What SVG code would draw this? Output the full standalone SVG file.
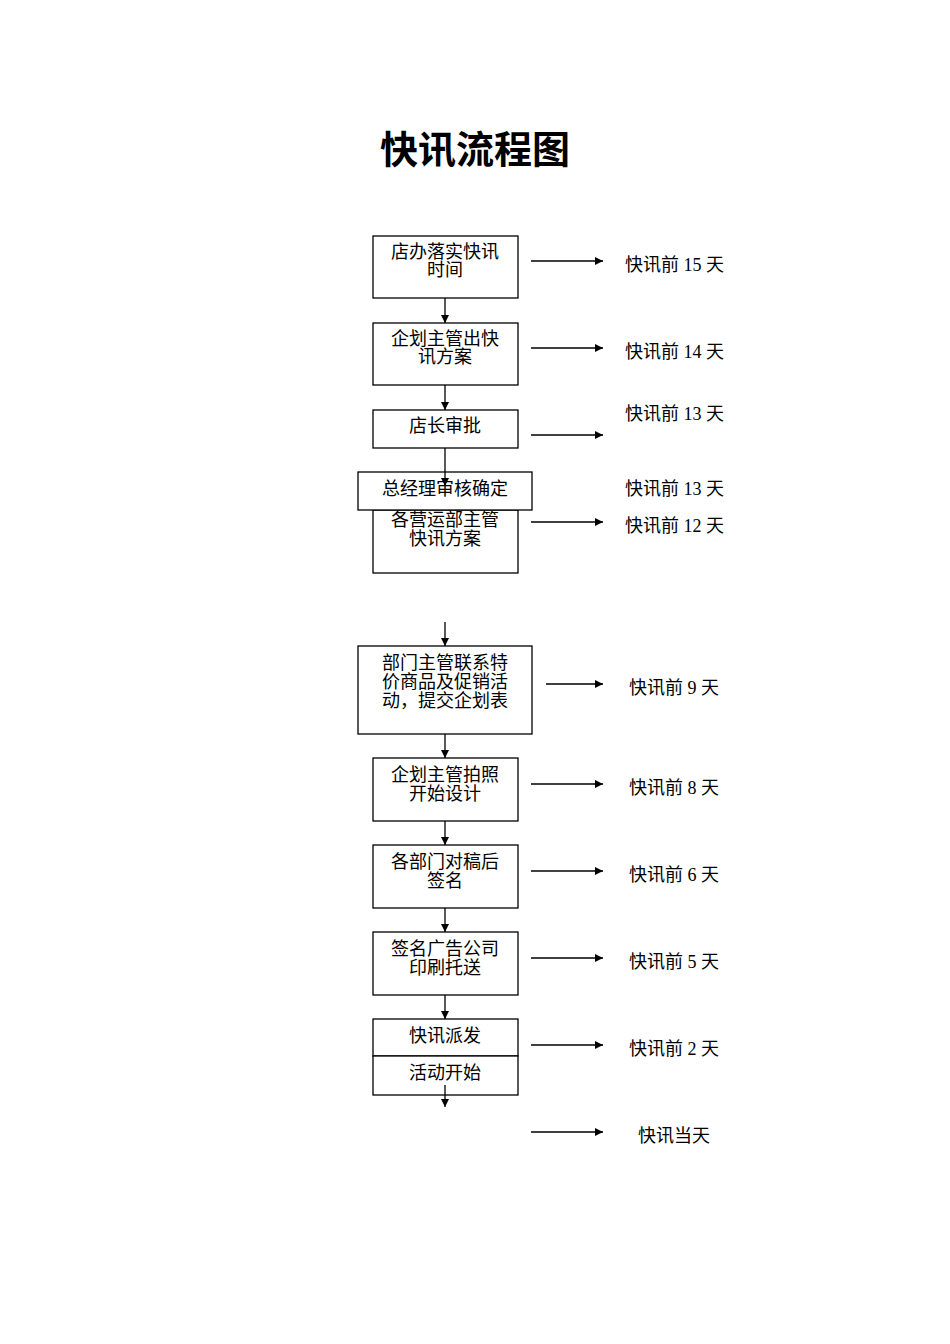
<svg xmlns="http://www.w3.org/2000/svg" width="950" height="1344" viewBox="0 0 950 1344">
<defs><marker id="a" viewBox="0 0 10 10" refX="10" refY="5" markerWidth="8" markerHeight="8" markerUnits="userSpaceOnUse" orient="auto"><path d="M0,0L10,5L0,10z" fill="#000"/></marker></defs>
<style>
rect{fill:#fff;stroke:#000;stroke-width:1.3}
text{font-family:"Liberation Serif","Noto Sans CJK SC",serif;font-size:18px;fill:#000}
.c{text-anchor:middle}
line{stroke:#000;stroke-width:1.3;marker-end:url(#a)}
</style>
<rect width="950" height="1344" style="stroke:none"/>
<text class="c" x="475" y="163" style="font-size:38px;font-weight:bold">快讯流程图</text>
<g id="n1"><rect x="373" y="236" width="145" height="62"/><text class="c" x="445" y="258">店办落实快讯</text><text class="c" x="445" y="276">时间</text></g>
<g id="n2"><rect x="373" y="323" width="145" height="62"/><text class="c" x="445" y="345">企划主管出快</text><text class="c" x="445" y="363">讯方案</text></g>
<g id="n3"><rect x="373" y="410" width="145" height="38"/><text class="c" x="445" y="432">店长审批</text></g>
<g id="n5"><rect x="373" y="510" width="145" height="63"/><text class="c" x="445" y="526">各营运部主管</text><text class="c" x="445" y="545">快讯方案</text></g>
<g id="n4"><rect x="358" y="472" width="174" height="38"/><text class="c" x="445" y="495">总经理审核确定</text></g>
<g id="n6"><rect x="358" y="646" width="174" height="88"/><text class="c" x="445" y="669">部门主管联系特</text><text class="c" x="445" y="688">价商品及促销活</text><text class="c" x="445" y="707">动，提交企划表</text></g>
<g id="n7"><rect x="373" y="758" width="145" height="63"/><text class="c" x="445" y="781">企划主管拍照</text><text class="c" x="445" y="800">开始设计</text></g>
<g id="n8"><rect x="373" y="845" width="145" height="63"/><text class="c" x="445" y="868">各部门对稿后</text><text class="c" x="445" y="887">签名</text></g>
<g id="n9"><rect x="373" y="932" width="145" height="63"/><text class="c" x="445" y="955">签名广告公司</text><text class="c" x="445" y="974">印刷托送</text></g>
<g id="n10"><rect x="373" y="1019" width="145" height="37"/><text class="c" x="445" y="1042">快讯派发</text></g>
<g id="n11"><rect x="373" y="1056" width="145" height="39"/><text class="c" x="445" y="1079">活动开始</text></g>
<g id="connectors">
<line x1="445" y1="298" x2="445" y2="323"/><line x1="445" y1="385" x2="445" y2="410"/>
<line x1="445" y1="448" x2="445" y2="486"/><line x1="445" y1="622" x2="445" y2="646"/>
<line x1="445" y1="734" x2="445" y2="758"/><line x1="445" y1="821" x2="445" y2="845"/>
<line x1="445" y1="908" x2="445" y2="932"/><line x1="445" y1="995" x2="445" y2="1019"/>
<line x1="445" y1="1085" x2="445" y2="1107"/>
<line x1="531" y1="261" x2="603" y2="261"/><line x1="531" y1="348" x2="603" y2="348"/>
<line x1="531" y1="435" x2="603" y2="435"/><line x1="531" y1="522" x2="603" y2="522"/>
<line x1="546" y1="684" x2="603" y2="684"/><line x1="531" y1="784" x2="603" y2="784"/>
<line x1="531" y1="871" x2="603" y2="871"/><line x1="531" y1="958" x2="603" y2="958"/>
<line x1="531" y1="1045" x2="603" y2="1045"/><line x1="531" y1="1132" x2="603" y2="1132"/>
</g>
<g id="labels">
<text x="625" y="271">快讯前 15 天</text><text x="625" y="358">快讯前 14 天</text>
<text x="625" y="420">快讯前 13 天</text><text x="625" y="495">快讯前 13 天</text>
<text x="625" y="532">快讯前 12 天</text><text x="629" y="694">快讯前 9 天</text>
<text x="629" y="794">快讯前 8 天</text><text x="629" y="881">快讯前 6 天</text>
<text x="629" y="968">快讯前 5 天</text><text x="629" y="1055">快讯前 2 天</text>
<text x="638" y="1142">快讯当天</text>
</g>
</svg>
